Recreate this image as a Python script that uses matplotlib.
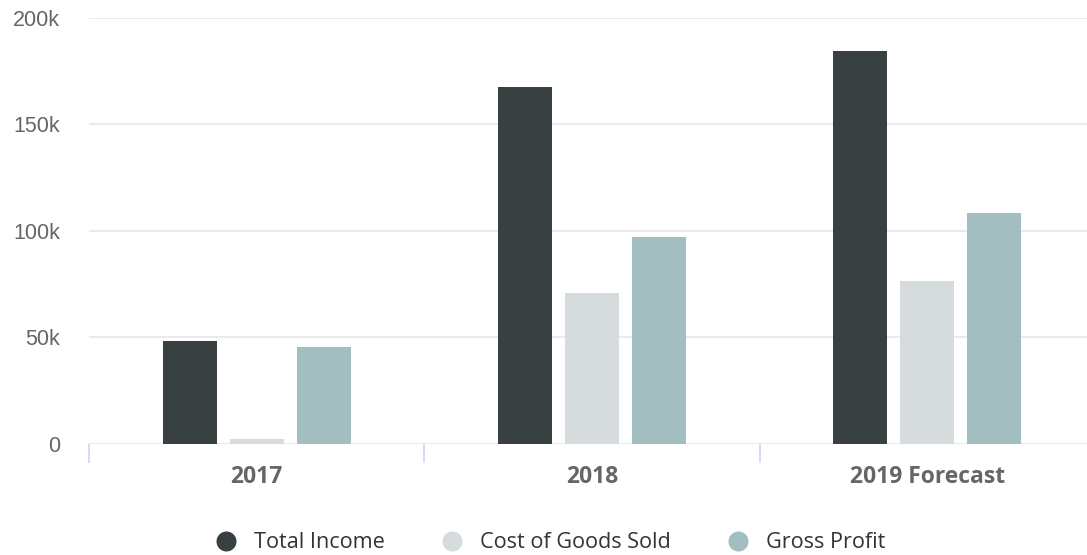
import matplotlib
matplotlib.use("Agg")
import matplotlib.pyplot as plt
from matplotlib.lines import Line2D
import numpy as np

categories = ["2017", "2018", "2019 Forecast"]
series_names = ["Total Income", "Cost of Goods Sold", "Gross Profit"]
total_income = [48200, 167500, 184400]
cost_of_goods = [2200, 70800, 76400]
gross_profit = [45400, 97000, 108300]
y_ticks = [0, 50000, 100000, 150000, 200000]
y_tick_labels = ["0", "50k", "100k", "150k", "200k"]

colors = ["#384042", "#d6dbdd", "#a3bec1"]
W, H = 1087, 555
fig = plt.figure(figsize=(W / 100, H / 100), dpi=100)
ax = fig.add_axes([89 / W, 1 - 443.7 / H, (1095 - 89) / W, (443.7 - 18) / H])

x = np.arange(len(categories))
offsets = [-0.2, 0.0, 0.2]
bar_w = 0.161
for vals, off, c in zip([total_income, cost_of_goods, gross_profit], offsets, colors):
    ax.bar(x + off, vals, width=bar_w, color=c, zorder=3, linewidth=0)

ax.set_xlim(-0.5, len(categories) - 0.5)
ax.set_ylim(0, 200000)
ax.set_yticks(y_ticks)
ax.set_yticklabels(y_tick_labels, fontfamily="Liberation Sans", fontsize=15.5, color="#666666")
ax.tick_params(axis="y", length=0, pad=21)
ax.grid(axis="y", color="#e6e6e6", linewidth=1.2, zorder=0)
ax.set_axisbelow(True)

# category labels centred, tick marks on category boundaries
ax.set_xticks(x)
ax.set_xticklabels(categories, fontfamily="Open Sans", fontweight="bold", fontsize=16.5, color="#666666")
ax.tick_params(axis="x", which="major", length=0, pad=15.5)
ax.set_xticks(np.arange(len(categories) + 1) - 0.5, minor=True)
ax.tick_params(axis="x", which="minor", length=13.7, width=1.2, color="#ccd6eb")

for s in ax.spines.values():
    s.set_visible(False)

handles = [Line2D([], [], marker="o", linestyle="", markersize=14.4, markerfacecolor=c,
                  markeredgewidth=0) for c in colors]
leg = fig.legend(handles, series_names, loc="center", bbox_to_anchor=(550 / W, 1 - 543 / H),
                 ncol=3, frameon=False, handletextpad=0.8, columnspacing=2.6,
                 prop={"family": "Open Sans", "size": 15.6}, handlelength=1.0,
                 borderpad=0, borderaxespad=0)
for t in leg.get_texts():
    t.set_color("#333333")

fig.savefig("out.png", dpi=100, facecolor="white")
